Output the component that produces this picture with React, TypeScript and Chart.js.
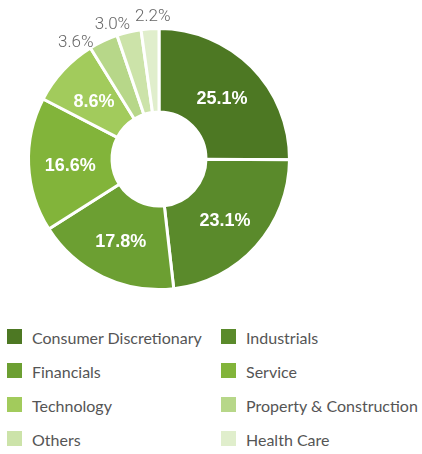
import React, { useEffect, useRef } from "react";
import { Chart, registerables } from "chart.js";

Chart.register(...registerables);

const categories = [
  "Consumer Discretionary",
  "Industrials",
  "Financials",
  "Service",
  "Technology",
  "Property & Construction",
  "Others",
  "Health Care",
];
const shares = [25.1, 23.1, 17.8, 16.6, 8.6, 3.6, 3.0, 2.2];
const colors = [
  "#4d7823",
  "#5a8a2b",
  "#6c9f32",
  "#82b43a",
  "#a2cb5c",
  "#b7d789",
  "#cce3a9",
  "#e0eecc",
];
const OUTSIDE_BELOW = 5;

const sliceLabels = {
  id: "sliceLabels",
  afterDatasetsDraw(chart: any) {
    const ctx = chart.ctx;
    const meta = chart.getDatasetMeta(0);
    const data = chart.data.datasets[0].data as number[];
    const outer: { i: number; a: number }[] = [];
    ctx.save();
    ctx.textAlign = "center";
    ctx.textBaseline = "middle";
    meta.data.forEach((arc: any, i: number) => {
      const p = arc.getProps(["x", "y", "startAngle", "endAngle", "innerRadius", "outerRadius"], true);
      const mid = (p.startAngle + p.endAngle) / 2;
      if (data[i] < OUTSIDE_BELOW) {
        outer.push({ i, a: mid });
        return;
      }
      const r = (p.innerRadius + p.outerRadius) / 2;
      ctx.font = "bold 18px 'Liberation Sans', Arial, sans-serif";
      ctx.fillStyle = "#ffffff";
      ctx.fillText(data[i].toFixed(1) + "%", p.x + r * Math.cos(mid), p.y + r * Math.sin(mid) + 3);
    });
    // spread outside labels so they do not collide
    const gap = (16.5 * Math.PI) / 180;
    if (outer.length) {
      outer[outer.length - 1].a += (1.5 * Math.PI) / 180;
      for (let k = outer.length - 2; k >= 0; k--) {
        outer[k].a = Math.min(outer[k].a, outer[k + 1].a - gap);
      }
    }
    outer.forEach(({ i, a }) => {
      const arc: any = meta.data[i];
      const p = arc.getProps(["x", "y", "outerRadius"], true);
      const r = p.outerRadius + 13;
      ctx.font = "300 17px Roboto, sans-serif";
      ctx.fillStyle = "#666666";
      ctx.fillText(data[i].toFixed(1) + "%", p.x + r * Math.cos(a), p.y + r * Math.sin(a) + 1);
    });
    ctx.restore();
  },
};

export default function App() {
  const ref = useRef<HTMLCanvasElement | null>(null);
  useEffect(() => {
    if (!ref.current) return;
    const chart = new Chart(ref.current, {
      type: "doughnut",
      data: {
        labels: categories,
        datasets: [
          {
            data: shares,
            backgroundColor: colors,
            borderColor: "#ffffff",
            borderWidth: 3,
          },
        ],
      },
      options: {
        responsive: false,
        maintainAspectRatio: false,
        animation: false,
        cutout: "36%",
        layout: { padding: { top: 27, bottom: 9, left: 27, right: 26 } },
        plugins: {
          legend: { display: false },
          tooltip: { enabled: false },
        },
      },
      plugins: [sliceLabels],
    } as any);
    return () => chart.destroy();
  }, []);

  return (
    <div
      style={{
        position: "absolute",
        left: 0,
        top: 0,
        width: 422,
        height: 454,
        background: "#ffffff",
        overflow: "hidden",
      }}
    >
      <canvas ref={ref} width={317} height={300} style={{ display: "block", width: 317, height: 300 }} />
      <div
        style={{
          position: "absolute",
          left: 7,
          top: 329,
          display: "grid",
          gridTemplateColumns: "214px 200px",
          gridAutoRows: "34px",
          fontFamily: "Lato, 'Noto Sans', sans-serif",
          fontSize: 16,
          color: "#555555",
        }}
      >
        {categories.map((c, i) => (
          <div key={c} style={{ display: "flex", alignItems: "center", height: 15, whiteSpace: "nowrap" }}>
            <span style={{ display: "inline-block", width: 15, height: 15, background: colors[i], flex: "none" }} />
            <span style={{ marginLeft: 10, lineHeight: "15px", position: "relative", top: 1 }}>{c}</span>
          </div>
        ))}
      </div>
    </div>
  );
}
